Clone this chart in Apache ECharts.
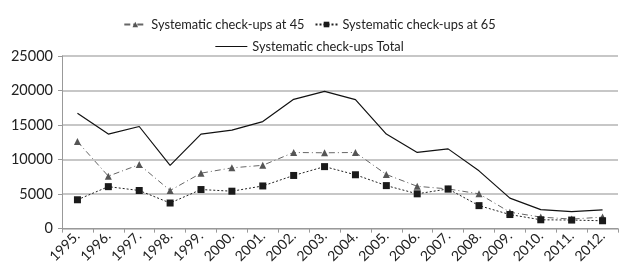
<!DOCTYPE html>
<html>
<head>
<meta charset="utf-8">
<script src="https://cdn.jsdelivr.net/npm/echarts@6/dist/echarts.min.js"></script>
<style>
html, body { margin: 0; padding: 0; background: #fff; }
#chart { width: 619px; height: 266px; }
</style>
</head>
<body>
<div id="chart"></div>
<script>
// data
var years = ['1995.', '1996.', '1997.', '1998.', '1999.', '2000.', '2001.', '2002.', '2003.',
  '2004.', '2005.', '2006.', '2007.', '2008.', '2009.', '2010.', '2011.', '2012.'];
var at45 = [12600, 7600, 9270, 5520, 8030, 8800, 9170, 11030, 10980,
  11030, 7840, 6130, 5750, 5040, 2380, 1670, 1380, 1670];
var at65 = [4180, 6080, 5520, 3710, 5660, 5420, 6180, 7700, 8980,
  7800, 6230, 5040, 5750, 3330, 2040, 1280, 1240, 1140];
var total = [16700, 13690, 14790, 9170, 13690, 14260, 15500, 18730, 19870,
  18680, 13690, 11030, 11550, 8370, 4420, 2760, 2470, 2710];
var yTicks = [0, 5000, 10000, 15000, 20000, 25000];

var font = "Lato, 'Open Sans', sans-serif";
var chart = echarts.init(document.getElementById('chart'));

var option = {
  animation: false,
  textStyle: { fontFamily: font },
  legend: [{
    data: ['Systematic check-ups at 45', 'Systematic check-ups at 65'],
    top: 13,
    left: 'center',
    itemWidth: 22,
    itemHeight: 7,
    itemGap: 10,
    textStyle: { fontSize: 12.8, color: '#222', fontFamily: font }
  }, {
    // plain line icon for the total (no marker)
    data: [{ name: 'Systematic check-ups Total', icon: 'path://M0,0 L32,0 L32,1.2 L0,1.2 Z' }],
    top: 35,
    left: 'center',
    itemWidth: 32,
    itemHeight: 1.2,
    textStyle: { fontSize: 12.8, color: '#222', fontFamily: font }
  }],
  grid: { left: 62, right: 1, top: 56, bottom: 35 },
  xAxis: {
    type: 'category',
    data: years,
    boundaryGap: true,
    axisLine: { lineStyle: { color: '#999', width: 1 } },
    axisTick: { show: true, length: 4, lineStyle: { color: '#999' } },
    axisLabel: { rotate: 45, fontSize: 14, color: '#222', margin: 5, fontFamily: font }
  },
  yAxis: {
    type: 'value',
    min: yTicks[0],
    max: yTicks[yTicks.length - 1],
    interval: 5000,
    axisLine: { show: true, lineStyle: { color: '#999', width: 1 } },
    axisTick: { show: true, length: 4, lineStyle: { color: '#999' } },
    axisLabel: {
      fontSize: 14.5, color: '#222', margin: 9, fontFamily: font,
      formatter: function (v) { return String(v); }
    },
    splitLine: { lineStyle: { color: '#b5b5b5', width: 1.5 } }
  },
  series: [{
    name: 'Systematic check-ups at 45',
    type: 'line',
    data: at45,
    symbol: 'triangle',
    symbolSize: 7,
    itemStyle: { color: '#555' },
    lineStyle: { color: '#666', width: 1, type: [6, 3, 1, 3] }
  }, {
    name: 'Systematic check-ups at 65',
    type: 'line',
    data: at65,
    symbol: 'rect',
    symbolSize: 7,
    itemStyle: { color: '#1a1a1a' },
    lineStyle: { color: '#222', width: 1, type: [2, 2] }
  }, {
    name: 'Systematic check-ups Total',
    type: 'line',
    data: total,
    symbol: 'none',
    itemStyle: { color: '#111' },
    lineStyle: { color: '#111', width: 1.2 }
  }]
};
chart.setOption(option);
</script>
</body>
</html>
